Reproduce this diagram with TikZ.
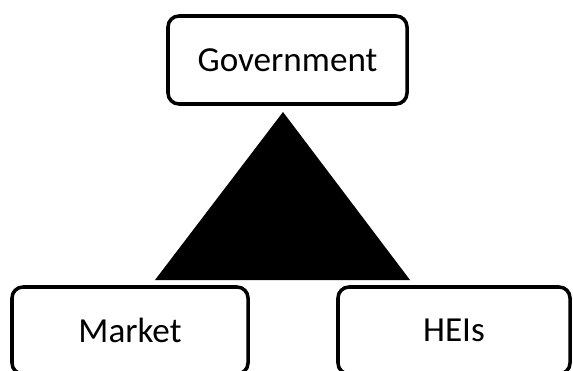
\documentclass[tikz,border=0pt]{standalone}
\usepackage{fontspec}
\setmainfont{Carlito}
\begin{document}
\begin{tikzpicture}[x=0.03cm,y=-0.03cm,
  party/.style={draw,line width=3pt,rounded corners=0.33cm,fill=white,
    inner sep=0pt,font=\fontsize{30}{36}\selectfont}]
\useasboundingbox (0,0) rectangle (573,370);
\node[party,minimum width=7.17cm,minimum height=2.64cm] (gov) at (287.5,60) {Government};
% the lower boxes run off the bottom edge
\node[party,minimum width=7.08cm,minimum height=2.61cm] (market) at (130,330.5) {Market};
\node[party,minimum width=6.96cm,minimum height=2.61cm] (heis) at (454,330.5) {HEIs};
\fill (283,112) -- (410,280) -- (155,280) -- cycle;
\end{tikzpicture}
\end{document}
